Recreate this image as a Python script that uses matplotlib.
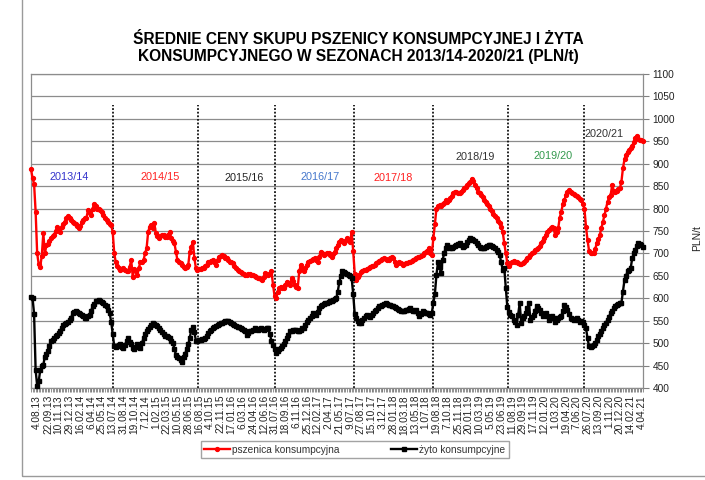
import matplotlib.pyplot as plt
import numpy as np
from matplotlib.patches import Rectangle

plt.rcParams['font.family'] = ['Liberation Sans', 'DejaVu Sans']

# tygodniowe ceny skupu (PLN/t), sezon po sezonie
pszenica = [
    # 2013/14
    888, 868, 855, 793, 700, 676, 670, 695, 745, 700, 718, 722, 728, 734, 738, 742, 750, 760, 752, 748,
    758, 766, 771, 778, 784, 778, 774, 770, 767, 765, 762, 756, 762, 771, 775, 778, 780, 797, 790, 786,
    800, 811, 805, 800, 798, 797, 792, 786, 780, 774, 771, 765, 763, 748,
    # 2014/15
    700, 680, 671, 668, 663, 665, 667, 664, 661, 661, 670, 685, 648, 665, 660, 652, 668, 682, 680, 685,
    700, 712, 748, 760, 763, 756, 767, 745, 738, 734, 738, 741, 740, 737, 737, 742, 748, 734, 728, 723,
    704, 685, 682, 678, 675, 670, 667, 670, 674, 704, 715, 726, 689, 667, 663,
    # 2015/16
    665, 666, 667, 668, 671, 675, 680, 682, 684, 685, 680, 674, 685, 693, 695, 697, 694, 690, 689, 685,
    682, 680, 678, 672, 667, 663, 660, 658, 656, 654, 652, 653, 654, 654, 653, 652, 650, 648, 646, 645,
    643, 641, 648, 656, 654, 652, 655, 660, 630, 605,
    # 2016/17
    600, 615, 622, 626, 624, 622, 630, 637, 633, 630, 645, 638, 630, 626, 622, 660, 674, 665, 660, 667,
    675, 682, 684, 685, 687, 689, 686, 682, 693, 704, 700, 697, 698, 700, 700, 697, 693, 698, 704, 712,
    719, 725, 730, 727, 723, 728, 734, 730, 726, 748, 705,
    # 2017/18
    655, 641, 648, 652, 658, 660, 662, 664, 666, 667, 669, 671, 672, 674, 678, 682, 684, 685, 687, 689,
    688, 686, 685, 690, 693, 689, 682, 674, 678, 682, 678, 674, 676, 678, 678, 680, 682, 684, 685, 687,
    689, 691, 693, 695, 697, 700, 704, 706, 711, 700, 697,
    # 2018/19
    734, 765, 800, 806, 808, 805, 811, 813, 819, 815, 820, 823, 828, 834, 836, 837, 835, 834, 838, 841,
    845, 849, 852, 856, 860, 867, 862, 852, 845, 837, 834, 830, 825, 819, 815, 811, 806, 800, 795, 789,
    784, 778, 772, 767, 760, 748, 723, 700, 678,
    # 2019/20
    672, 678, 682, 683, 682, 680, 678, 677, 676, 678, 682, 685, 690, 693, 697, 700, 704, 708, 710, 711,
    716, 723, 728, 734, 740, 748, 752, 756, 760, 756, 741, 748, 756, 780, 793, 810, 819, 830, 837, 841,
    838, 834, 832, 830, 828, 826, 822, 819, 810,
    # 2020/21
    800, 760, 730, 706, 702, 700, 702, 710, 723, 732, 742, 756, 770, 785, 800, 815, 825, 830, 852, 840,
    837, 840, 843, 845, 860, 890, 910, 920, 926, 930, 934, 940, 948, 958, 962, 956, 953, 952, 950,
]

zyto = [
    # 2013/14
    602, 601, 565, 440, 405, 415, 440, 448, 452, 470, 476, 482, 493, 504, 508, 511, 515, 519, 522, 526,
    533, 541, 543, 546, 548, 552, 556, 567, 569, 571, 569, 567, 566, 563, 560, 556, 557, 560, 563, 572,
    582, 588, 593, 595, 597, 594, 591, 589, 585, 582, 574, 567, 548, 520,
    # 2014/15
    493, 492, 493, 495, 497, 492, 489, 495, 505, 511, 503, 497, 490, 486, 492, 497, 493, 489, 500, 511,
    520, 527, 532, 537, 541, 545, 543, 541, 538, 534, 530, 525, 521, 517, 515, 513, 511, 505, 500, 488,
    474, 470, 467, 462, 459, 468, 476, 487, 497, 512, 530, 537, 524, 505, 504,
    # 2015/16
    506, 508, 509, 510, 511, 517, 523, 527, 530, 534, 537, 539, 541, 543, 545, 546, 548, 549, 550, 550,
    548, 545, 543, 541, 539, 537, 535, 534, 532, 530, 526, 519, 522, 526, 526, 530, 534, 532, 530, 532,
    534, 532, 530, 532, 534, 533, 520, 504, 495, 486,
    # 2016/17
    478, 482, 486, 490, 494, 497, 504, 511, 519, 526, 528, 530, 530, 530, 528, 526, 530, 533, 534, 541,
    548, 552, 556, 561, 567, 565, 563, 570, 578, 582, 585, 587, 589, 589, 591, 593, 595, 597, 598, 600,
    615, 636, 650, 660, 658, 656, 654, 652, 649, 645, 610,
    # 2017/18
    565, 555, 550, 546, 545, 552, 556, 560, 563, 561, 559, 563, 567, 571, 574, 578, 582, 583, 585, 587,
    589, 588, 586, 585, 583, 582, 580, 578, 576, 574, 572, 571, 572, 573, 574, 576, 578, 574, 571, 572,
    574, 567, 560, 565, 571, 569, 567, 567, 565, 563, 567,
    # 2018/19
    590, 610, 652, 680, 670, 656, 685, 700, 712, 719, 714, 711, 713, 715, 717, 719, 721, 723, 718, 715,
    717, 719, 725, 730, 734, 732, 730, 727, 723, 719, 715, 713, 711, 713, 715, 717, 719, 719, 717, 715,
    712, 708, 703, 697, 680, 663, 667, 622, 580,
    # 2019/20
    570, 562, 560, 552, 548, 541, 563, 589, 545, 555, 560, 567, 578, 589, 552, 558, 563, 572, 582, 578,
    574, 567, 560, 563, 567, 560, 552, 556, 560, 555, 548, 552, 556, 558, 560, 572, 585, 580, 574, 565,
    556, 554, 552, 554, 556, 552, 548, 550, 548,
    # 2020/21
    540, 534, 511, 493, 492, 493, 496, 500, 507, 515, 520, 526, 533, 541, 546, 552, 559, 567, 572, 578,
    582, 585, 587, 589, 590, 615, 641, 650, 660, 663, 667, 689, 700, 708, 716, 723, 721, 719, 715,
]

sezony = ['2013/14', '2014/15', '2015/16', '2016/17', '2017/18', '2018/19', '2019/20', '2020/21']
tygodnie_w_sezonie = [54, 55, 50, 51, 51, 49, 49, 39]
kolory_sezonow = ['#3333cc', '#ff2020', '#222222', '#4477cc', '#ff2020', '#333333', '#33994d', '#333333']
# polozenie podpisow sezonow (tydzien, PLN/t)
podpis_x = [24.6, 83.7, 138.2, 187.5, 234.8, 288, 338.6, 371.7]
podpis_y = [870, 870, 868, 870, 868, 915, 917, 966]

etykiety_dat = [
    '4.08.13', '22.09.13', '10.11.13', '29.12.13', '16.02.14', '6.04.14', '25.05.14', '13.07.14',
    '31.08.14', '19.10.14', '7.12.14', '1.02.15', '22.03.15', '10.05.15', '28.06.15', '16.08.15',
    '4.10.15', '22.11.15', '17.01.16', '6.03.16', '24.04.16', '12.06.16', '31.07.16', '18.09.16',
    '6.11.16', '25.12.16', '12.02.17', '2.04.17', '21.05.17', '9.07.17', '27.08.17', '15.10.17',
    '3.12.17', '28.01.18', '18.03.18', '13.05.18', '1.07.18', '19.08.18', '7.10.18', '25.11.18',
    '20.01.19', '10.03.19', '5.05.19', '23.06.19', '11.08.19', '29.09.19', '17.11.19', '12.01.20',
    '1.03.20', '19.04.20', '7.06.20', '26.07.20', '13.09.20', '1.11.20', '20.12.20', '14.02.21',
    '4.04.21',
]
pierwsza_etykieta = 4
krok_etykiet = 7

n = len(pszenica)
x = np.arange(n)

fig = plt.figure(figsize=(7.05, 4.8), dpi=100)
ax = fig.add_axes([31 / 705, 92 / 480, 612 / 705, 314 / 480])

# siatka pozioma
for v in range(400, 1101, 50):
    ax.axhline(v, color='#8c8c8c', lw=0.9, zorder=1)

# granice sezonow
granice = np.cumsum(tygodnie_w_sezonie)[:-1] - 0.5
for g in granice:
    ax.plot([g, g], [400, 1030], color='#111111', lw=1.3, ls=(0, (1, 1)), zorder=2)

ax.plot(x, pszenica, color='#ff0000', lw=1.7, marker='o', ms=2.8, mec='#ff0000',
        label='pszenica konsumpcyjna', zorder=4, clip_on=False)
ax.plot(x, zyto, color='#000000', lw=1.7, marker='s', ms=3.2, mec='#000000',
        label='żyto konsumpcyjne', zorder=4, clip_on=False)

for s, c, px, py in zip(sezony, kolory_sezonow, podpis_x, podpis_y):
    ax.text(px, py, s, color=c, fontsize=7.8, ha='center', va='center', zorder=5)

ax.set_xlim(0, n - 1)
ax.set_ylim(400, 1100)
ax.yaxis.tick_right()
ax.set_yticks(range(400, 1101, 50))
ax.tick_params(axis='y', labelsize=7.3, length=4, color='#808080', labelcolor='#222222', pad=3)

ax.set_xticks(x, minor=True)
poz = [pierwsza_etykieta + krok_etykiet * i for i in range(len(etykiety_dat))]
ax.set_xticks(poz)
ax.set_xticklabels(etykiety_dat, rotation=90, fontsize=7.3, color='#222222')
ax.tick_params(axis='x', which='major', length=3, color='#808080', pad=2)
ax.tick_params(axis='x', which='minor', length=3, color='#808080', width=0.6)

for sp in ax.spines.values():
    sp.set_color('#8c8c8c')
    sp.set_linewidth(0.9)

fig.text(0.989, 0.504, 'PLN/t', rotation=90, fontsize=7.5, ha='center', va='center', color='#222222')

fig.text(0.508, 0.900,
         'ŚREDNIE CENY SKUPU PSZENICY KONSUMPCYJNEJ I ŻYTA\n'
         'KONSUMPCYJNEGO W SEZONACH 2013/14-2020/21 (PLN/t)',
         ha='center', va='center', fontsize=11.2, fontweight='bold', linespacing=1.2)

leg = fig.legend(loc='center', bbox_to_anchor=(0.503, 0.0635), ncol=2, fontsize=7.3,
                 frameon=True, fancybox=False, edgecolor='#8c8c8c', borderpad=0.35,
                 handlelength=2.6, columnspacing=5.0, handletextpad=0.2, borderaxespad=0.0)
for t in leg.get_texts():
    t.set_color('#333333')

fig.patches.append(Rectangle((22 / 705, 4 / 480), 1.0, 1.0, transform=fig.transFigure,
                             fill=False, edgecolor='#9a9a9a', lw=1.0))

fig.savefig('out.png', dpi=100)
